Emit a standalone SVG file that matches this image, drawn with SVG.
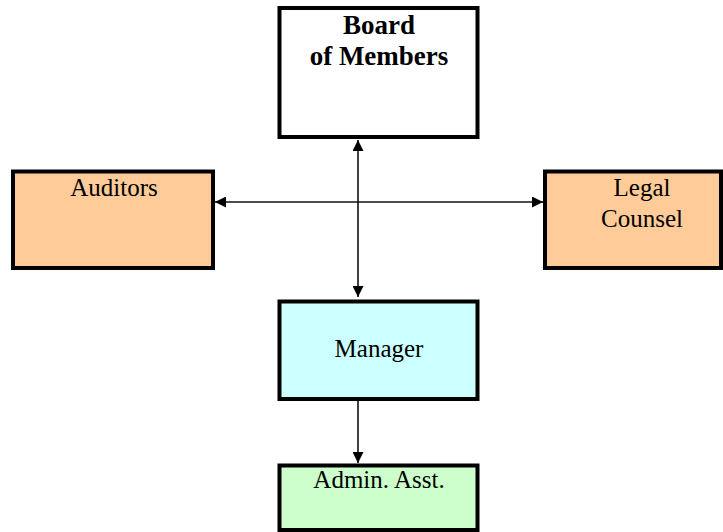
<svg xmlns="http://www.w3.org/2000/svg" width="723" height="532" viewBox="0 0 723 532">
<style>
.box{stroke:#000;stroke-width:4}
.t{font-family:"Liberation Serif","Times New Roman",serif;font-size:25px;fill:#000;text-anchor:middle}
.b{font-weight:bold;font-size:27px}
.c{stroke:#111;stroke-width:1.6;fill:none}
</style>
<defs>
<marker id="ah" markerUnits="userSpaceOnUse" markerWidth="11" markerHeight="11" refX="10" refY="5" orient="auto-start-reverse" viewBox="0 0 10 10">
<path d="M0,0 L10,5 L0,10 z" fill="#000"/>
</marker>
</defs>
<rect width="723" height="532" fill="#fff"/>
<g id="connectors">
<line class="c" x1="215" y1="202" x2="543" y2="202" marker-start="url(#ah)" marker-end="url(#ah)"/>
<line class="c" x1="358" y1="140" x2="358" y2="297" marker-start="url(#ah)" marker-end="url(#ah)"/>
<line class="c" x1="358" y1="401" x2="358" y2="463" marker-end="url(#ah)"/>
</g>
<g id="board">
<rect class="box" x="279.5" y="8" width="198" height="129" fill="#fff"/>
<text class="t b" x="379" y="34">Board</text>
<text class="t b" x="379" y="65">of Members</text>
</g>
<g id="auditors">
<rect class="box" x="13" y="171.5" width="200" height="96.5" fill="#FFCC99"/>
<text class="t" x="114" y="196">Auditors</text>
</g>
<g id="legal">
<rect class="box" x="545" y="171.5" width="176" height="96.5" fill="#FFCC99"/>
<text class="t" x="642" y="196">Legal</text>
<text class="t" x="642" y="227">Counsel</text>
</g>
<g id="manager">
<rect class="box" x="279.5" y="301.5" width="198" height="97.5" fill="#CCFFFF"/>
<text class="t" x="379" y="357">Manager</text>
</g>
<g id="admin">
<rect class="box" x="279.5" y="465.5" width="198" height="64.5" fill="#CCFFCC"/>
<text class="t" x="379" y="488">Admin. Asst.</text>
</g>
</svg>
